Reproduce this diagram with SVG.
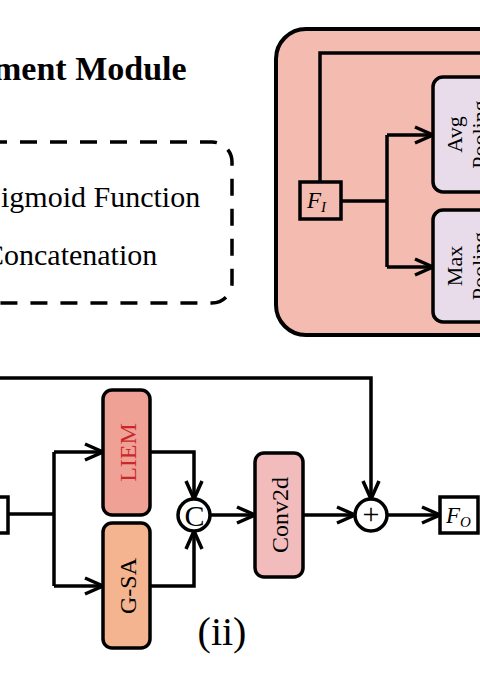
<svg xmlns="http://www.w3.org/2000/svg" width="480" height="680" viewBox="0 0 480 680">
<style>
.ln{fill:none;stroke:#000;stroke-width:3.5}
.box{stroke:#000;stroke-width:3.5}
.serif{font-family:"Liberation Serif","Times New Roman",serif}
.lbl{font-family:"Liberation Serif","Times New Roman",serif;font-size:24px;text-anchor:middle}
.var{font-family:"Liberation Serif","Times New Roman",serif;font-style:italic;font-size:23px}
</style>
<defs>
<marker id="ah" viewBox="0 0 22 20" refX="20" refY="10" markerWidth="22" markerHeight="20" markerUnits="userSpaceOnUse" orient="auto">
<path d="M2,2 L20,10 L2,18" fill="none" stroke="#000" stroke-width="3.5"/>
</marker>
</defs>
<rect width="480" height="680" fill="#fff"/>
<g id="title">
<text x="-7" y="80" class="serif" font-size="34" font-weight="bold">ment Module</text>
</g>
<g id="legend">
<path d="M-10,142 H212 A20,20 0 0 1 232,162 V283 A20,20 0 0 1 212,303 H-10" fill="none" stroke="#000" stroke-width="3.5" stroke-dasharray="17 13"/>
<text x="1" y="207" class="serif" font-size="30">igmoid Function</text>
<text x="-16" y="265" class="serif" font-size="30">Concatenation</text>
</g>
<g id="panel-i">
<rect x="276" y="29" width="260" height="306" rx="30" fill="#f4bcb0" stroke="#000" stroke-width="4"/>
</g>
<g id="connectors">
<path class="ln" d="M320,182 V53 H490"/>
<path class="ln" d="M341,201 H387"/>
<path class="ln" d="M387,135 V267"/>
<path class="ln" d="M387,135 H433" marker-end="url(#ah)"/>
<path class="ln" d="M387,267 H433" marker-end="url(#ah)"/>
<path class="ln" d="M-5,378 H371 V499" marker-end="url(#ah)"/>
<path class="ln" d="M8,514 H54"/>
<path class="ln" d="M54,452 V586"/>
<path class="ln" d="M54,452 H103" marker-end="url(#ah)"/>
<path class="ln" d="M54,586 H103" marker-end="url(#ah)"/>
<path class="ln" d="M150,452 H194 V499" marker-end="url(#ah)"/>
<path class="ln" d="M150,586 H194 V531" marker-end="url(#ah)"/>
<path class="ln" d="M210,515 H255" marker-end="url(#ah)"/>
<path class="ln" d="M303,515 H355" marker-end="url(#ah)"/>
<path class="ln" d="M387,515 H440" marker-end="url(#ah)"/>
</g>
<g id="FI">
<rect class="box" x="300" y="182" width="41" height="37" fill="#f4bcb0"/>
<text x="307" y="208" class="var">F<tspan font-size="15" dy="4">I</tspan></text>
</g>
<g id="avgpool">
<rect class="box" x="433" y="77" width="70" height="115" rx="10" fill="#e8dcea"/>
<text class="serif" font-size="22" text-anchor="middle" transform="translate(462,134.5) rotate(-90)">Avg</text>
<text class="serif" font-size="22" text-anchor="middle" transform="translate(487,134.5) rotate(-90)">Pooling</text>
</g>
<g id="maxpool">
<rect class="box" x="433" y="210" width="70" height="112" rx="10" fill="#e8dcea"/>
<text class="serif" font-size="22" text-anchor="middle" transform="translate(462,266) rotate(-90)">Max</text>
<text class="serif" font-size="22" text-anchor="middle" transform="translate(487,266) rotate(-90)">Pooling</text>
</g>
<g id="input">
<rect class="box" x="-30" y="497" width="38" height="36" fill="#fff"/>
</g>
<g id="liem">
<rect class="box" x="103" y="390" width="47" height="125" rx="9" fill="#f0a195"/>
<text class="lbl" fill="#c8282a" transform="translate(136,452.5) rotate(-90)">LIEM</text>
</g>
<g id="gsa">
<rect class="box" x="103" y="523" width="47" height="125" rx="9" fill="#f4b48f"/>
<text class="lbl" transform="translate(136,586) rotate(-90)">G-SA</text>
</g>
<g id="concat">
<circle cx="194" cy="515" r="16" fill="#fff" stroke="#000" stroke-width="3.5"/>
<text x="194.5" y="525.5" class="serif" font-size="30" text-anchor="middle">C</text>
</g>
<g id="conv2d">
<rect class="box" x="255" y="453" width="48" height="124" rx="9" fill="#f3bcbc"/>
<text class="lbl" transform="translate(288,515) rotate(-90)">Conv2d</text>
</g>
<g id="add">
<circle cx="371" cy="515" r="16" fill="#fff" stroke="#000" stroke-width="3.5"/>
<text x="371" y="523.5" class="serif" font-size="30" text-anchor="middle">+</text>
</g>
<g id="FO">
<rect class="box" x="440" y="497" width="38" height="36" fill="#fff"/>
<text x="446" y="523" class="var">F<tspan font-size="15" dy="4">O</tspan></text>
</g>
<g id="caption">
<text x="222" y="645" class="serif" font-size="40" text-anchor="middle">(ii)</text>
</g>
</svg>
